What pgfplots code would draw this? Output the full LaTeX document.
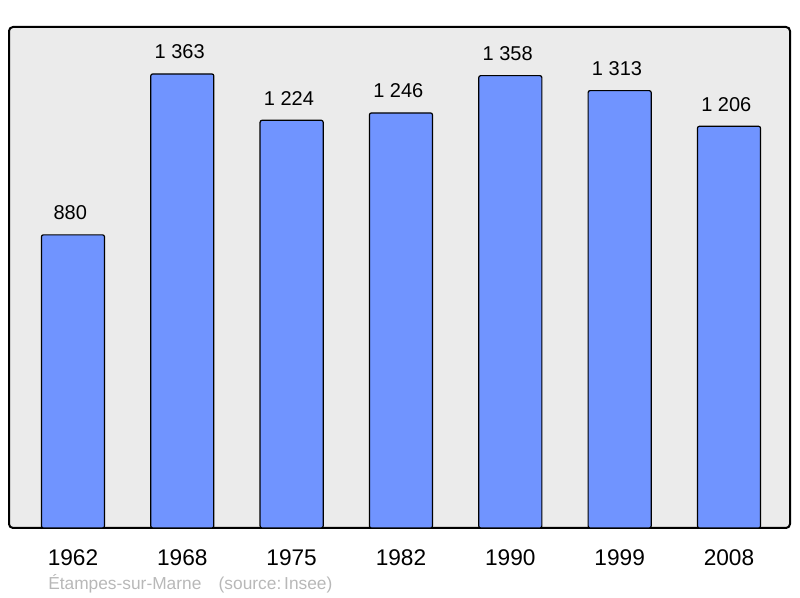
\documentclass[border=0pt]{standalone}
\usepackage{fontspec}
\setmainfont{Liberation Sans}
\usepackage{pgfplots}
\pgfplotsset{compat=1.18}
\definecolor{barBlue}{HTML}{7094FF}
\definecolor{bgGray}{HTML}{EBEBEB}
\definecolor{noteGray}{HTML}{B8B8B8}

\begin{document}
\begin{tikzpicture}[x=0.75pt,y=0.75pt]
% page = 800x598 px, axis box at px (9..790, 27..528)
\path[use as bounding box] (-9,-70) rectangle (791,27+501);
\begin{axis}[
    at={(0,0)}, anchor=south west,
    scale only axis,
    width=585.75pt, height=375.75pt,
    xmin=-0.585, xmax=6.558,
    ymin=0, ymax=1504,
    axis line style={draw=none},
    axis background/.style={fill=bgGray, draw=black, line width=1.5pt, rounded corners=3pt},
    ytick=\empty,
    xtick=data,
    xticklabels={1962,1968,1975,1982,1990,1999,2008},
    major tick length=0pt,
    xticklabel style={font=\fontsize{17}{20}\selectfont, text=black, yshift=-12.5pt},
    ybar, bar width=0.577,
    point meta=explicit symbolic,
    nodes near coords,
    nodes near coords style={font=\fontsize{15}{18}\selectfont, text=black, yshift=7.5pt, xshift=-2pt},
    clip=false,
]
\addplot[fill=barBlue, draw=black, line width=0.9pt, rounded corners=1.5pt]
  coordinates {(0,880)[880] (1,1363)[1 363] (2,1224)[1 224] (3,1246)[1 246]
               (4,1358)[1 358] (5,1313)[1 313] (6,1206)[1 206]};
\end{axis}
\node[anchor=base west, inner sep=0pt, text=noteGray, font=\fontsize{13}{15}\selectfont]
  at (39,-62) {Étampes-sur-Marne\hspace{1em}(source:\,Insee)};
\end{tikzpicture}
\end{document}
